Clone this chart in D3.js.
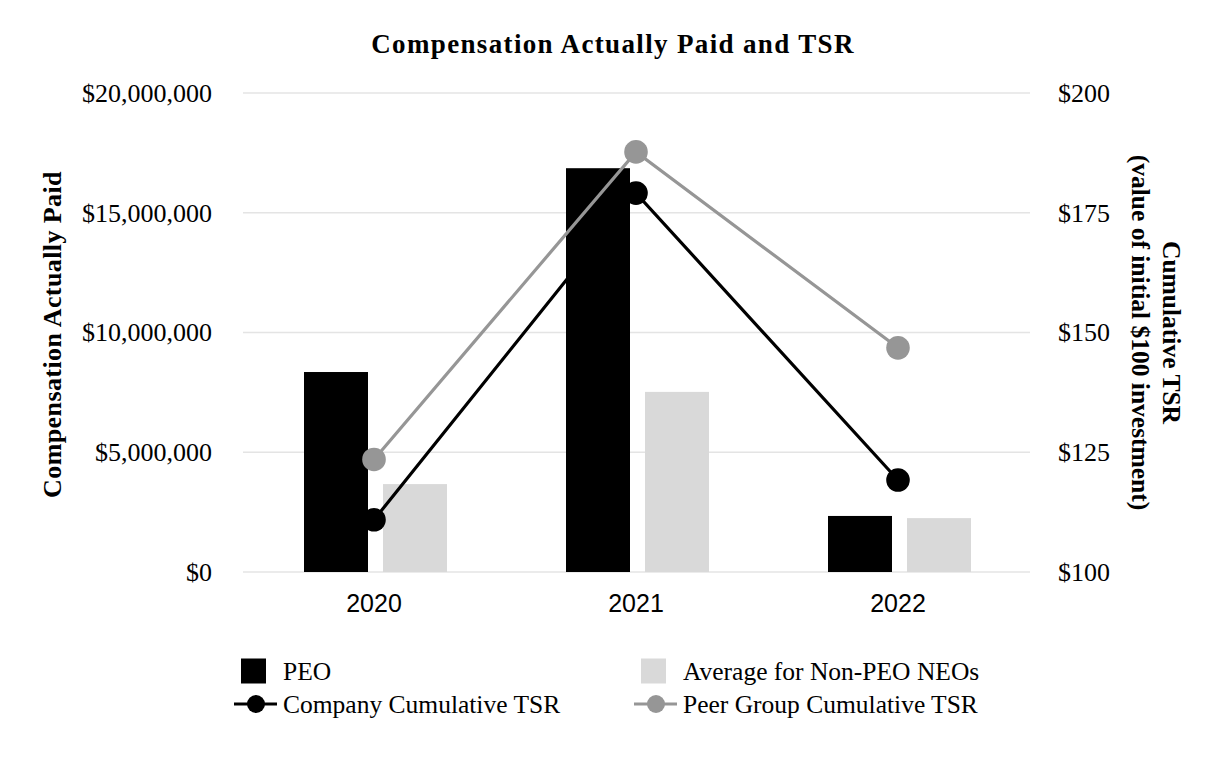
<!DOCTYPE html>
<html>
<head>
<meta charset="utf-8">
<script src="https://cdn.jsdelivr.net/npm/d3@7"></script>
<style>
  html, body { margin: 0; padding: 0; background: #fff; }
  svg { display: block; }
</style>
</head>
<body>
<svg id="chart" width="1226" height="760"></svg>
<script>
// ---- data ----
const categories = ["2020", "2021", "2022"];
const peoValues = [8350000, 16860000, 2340000];
const nonPeoValues = [3670000, 7520000, 2250000];
const companyTSR = [110.9, 179.1, 119.2];
const peerTSR = [123.5, 187.7, 146.8];
const leftTicks = [0, 5000000, 10000000, 15000000, 20000000];
const rightTicks = [100, 125, 150, 175, 200];

const svg = d3.select("#chart");
const plotLeft = 243, plotRight = 1029, plotTop = 93, plotBottom = 572;
const serif = "'Liberation Serif', 'Times New Roman', serif";
const sans = "'Liberation Sans', Arial, sans-serif";

const x = d3.scaleBand().domain(categories).range([plotLeft, plotRight]);
const bw = x.bandwidth();
const x1 = d3.scaleBand().domain(["peo", "nonPeo"]).range([bw / 2 - 70, bw / 2 + 73]).paddingInner(0.19).paddingOuter(0);
const yL = d3.scaleLinear().domain([0, 20000000]).range([plotBottom, plotTop]);
const yR = d3.scaleLinear().domain([100, 200]).range([plotBottom, plotTop]);

// gridlines
svg.append("g").selectAll("line").data(leftTicks).join("line")
  .attr("x1", plotLeft).attr("x2", plotRight + 1)
  .attr("y1", d => yL(d)).attr("y2", d => yL(d))
  .attr("stroke", "#e4e4e4").attr("stroke-width", 1.6);

// left axis
const fmtL = d => "$" + d3.format(",")(d);
const axL = svg.append("g").attr("transform", `translate(${plotLeft},0)`)
  .call(d3.axisLeft(yL).tickValues(leftTicks).tickFormat(fmtL).tickSize(0).tickPadding(31));
axL.select(".domain").remove();
axL.selectAll("text").attr("font-family", serif).attr("font-size", 26).attr("fill", "#000");

// right axis
const axR = svg.append("g").attr("transform", `translate(${plotRight},0)`)
  .call(d3.axisRight(yR).tickValues(rightTicks).tickFormat(d => "$" + d).tickSize(0).tickPadding(29));
axR.select(".domain").remove();
axR.selectAll("text").attr("font-family", serif).attr("font-size", 26).attr("fill", "#000");

// x axis labels
const axX = svg.append("g").attr("transform", `translate(0,${plotBottom})`)
  .call(d3.axisBottom(x).tickSize(0).tickPadding(22));
axX.select(".domain").remove();
axX.selectAll("text").attr("font-family", sans).attr("font-size", 25).attr("fill", "#000");

// bars
const barData = categories.map((c, i) => ({ c, peo: peoValues[i], nonPeo: nonPeoValues[i] }));
const colors = { peo: "#000000", nonPeo: "#d9d9d9" };
svg.append("g").selectAll("g").data(barData).join("g")
  .attr("transform", d => `translate(${x(d.c)},0)`)
  .selectAll("rect").data(d => ["peo", "nonPeo"].map(k => ({ k, v: d[k] }))).join("rect")
  .attr("x", d => x1(d.k)).attr("width", x1.bandwidth())
  .attr("y", d => yL(d.v)).attr("height", d => yL(0) - yL(d.v))
  .attr("fill", d => colors[d.k]);

// lines
const cx = c => x(c) + bw / 2;
function drawLine(vals, color) {
  const pts = categories.map((c, i) => [cx(c), yR(vals[i])]);
  svg.append("path").datum(pts)
    .attr("d", d3.line())
    .attr("fill", "none").attr("stroke", color).attr("stroke-width", 3.2);
  svg.append("g").selectAll("circle").data(pts).join("circle")
    .attr("cx", d => d[0]).attr("cy", d => d[1]).attr("r", 11.8).attr("fill", color);
}
drawLine(peerTSR, "#969696");
drawLine(companyTSR, "#000000");

// title
svg.append("text").attr("x", 613).attr("y", 53).attr("text-anchor", "middle")
  .attr("font-family", serif).attr("font-size", 27).attr("font-weight", "bold")
  .attr("letter-spacing", 1.35)
  .text("Compensation Actually Paid and TSR");

// left axis title
svg.append("text").attr("transform", `translate(61,${(plotTop + plotBottom) / 2 + 2}) rotate(-90)`)
  .attr("text-anchor", "middle").attr("font-family", serif).attr("font-size", 26)
  .attr("font-weight", "bold").attr("letter-spacing", 0.4)
  .text("Compensation Actually Paid");

// right axis title
const rt = svg.append("text").attr("transform", `translate(1163,${(plotTop + plotBottom) / 2}) rotate(90)`)
  .attr("text-anchor", "middle").attr("font-family", serif).attr("font-size", 25.5)
  .attr("font-weight", "bold");
rt.append("tspan").attr("x", 0).attr("y", 0).text("Cumulative TSR");
rt.append("tspan").attr("x", 0).attr("y", 31).text("(value of initial $100 investment)");

// legend
const legend = svg.append("g");
const legItems = [
  { label: "PEO", type: "rect", color: "#000000", lx: 241, ly: 671 },
  { label: "Average for Non-PEO NEOs", type: "rect", color: "#d9d9d9", lx: 641, ly: 671 },
  { label: "Company Cumulative TSR", type: "line", color: "#000000", lx: 241, ly: 704 },
  { label: "Peer Group Cumulative TSR", type: "line", color: "#969696", lx: 641, ly: 704 }
];
legItems.forEach(it => {
  const g = legend.append("g");
  if (it.type === "rect") {
    g.append("rect").attr("x", it.lx).attr("y", it.ly - 12.5).attr("width", 25).attr("height", 25).attr("fill", it.color);
  } else {
    g.append("line").attr("x1", it.lx - 7).attr("x2", it.lx + 36).attr("y1", it.ly).attr("y2", it.ly)
      .attr("stroke", it.color).attr("stroke-width", 3.2);
    g.append("circle").attr("cx", it.lx + 15).attr("cy", it.ly).attr("r", 9).attr("fill", it.color);
  }
  g.append("text").attr("x", it.lx + 42).attr("y", it.ly + 8.5)
    .attr("font-family", serif).attr("font-size", 25.5).attr("fill", "#000").text(it.label);
});
</script>
</body>
</html>
